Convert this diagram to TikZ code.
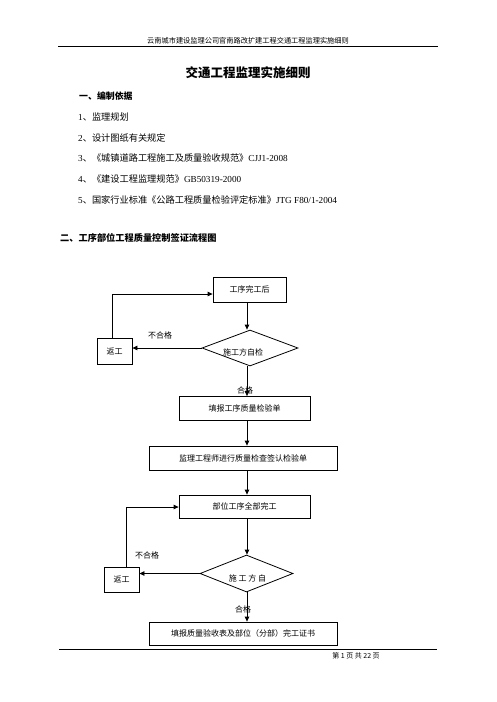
\documentclass[tikz,border=0pt]{standalone}
\usepackage{fontspec}
\setmainfont{Liberation Serif}
\newfontfamily\cjk{Noto Sans CJK SC}
\usetikzlibrary{arrows.meta,shapes.geometric}
\begin{document}
\begin{tikzpicture}[x=1pt,y=-1pt,
  box/.style={draw,line width=0.8pt,inner sep=0,font=\cjk\fontsize{8}{9}\selectfont},
  dia/.style={draw,line width=0.8pt,diamond,inner sep=0},
  lbl/.style={inner sep=0,font=\cjk\fontsize{8}{9}\selectfont},
  body/.style={inner sep=0,anchor=west,font=\fontsize{9.2}{11}\selectfont},
  arr/.style={line width=0.8pt,-{Triangle[length=5pt,width=4.5pt]}},
  rule/.style={line width=0.9pt}]
\useasboundingbox (0,0) rectangle (496,702);
% header
\node[inner sep=0,font=\cjk\fontsize{7.2}{8}\selectfont] (hdr) at (248,40.5) {云南城市建设监理公司官南路改扩建工程交通工程监理实施细则};
\draw[rule] (58,46) -- (438,46);
% title and text
\node[inner sep=0,font=\cjk\bfseries\fontsize{12.5}{14}\selectfont] (title) at (248,73) {交通工程监理实施细则};
\node[body,font=\cjk\bfseries\fontsize{8.9}{11}\selectfont] (s1) at (79,96) {一、编制依据};
\node[body] (i1) at (78,117) {1{\cjk 、监理规划}};
\node[body] (i2) at (78,137.5) {2{\cjk 、设计图纸有关规定}};
\node[body] (i3) at (78,158) {3{\cjk 、《城镇道路工程施工及质量验收规范》}CJJ1-2008};
\node[body] (i4) at (78,179) {4{\cjk 、《建设工程监理规范》}GB50319-2000};
\node[body] (i5) at (78,200) {5{\cjk 、国家行业标准《公路工程质量检验评定标准》}JTG F80/1-2004};
\node[body,font=\cjk\bfseries\fontsize{9.2}{11}\selectfont] (s2) at (60,238) {二、工序部位工程质量控制签证流程图};
% flowchart
\coordinate (vx) at (247,0);
\node[box,minimum width=73pt,minimum height=25pt] (b1) at (249.5,289.5) {工序完工后};
\node[dia,minimum width=96pt,minimum height=36pt] (d1) at (250,348) {};
\node[lbl] (d1t) at (243,352) {施工方自检};
\node[box,minimum width=35pt,minimum height=26pt] (r1) at (114.5,351) {返工};
\node[box,minimum width=131pt,minimum height=24pt] (b2) at (244.5,408.5) {填报工序质量检验单};
\node[box,minimum width=188pt,minimum height=24pt] (b3) at (243,458) {监理工程师进行质量检查签认检验单};
\node[box,minimum width=131pt,minimum height=23pt] (b4) at (244.5,506.5) {部位工序全部完工};
\node[dia,minimum width=93pt,minimum height=37pt] (d2) at (246.5,573.5) {};
\node[lbl] (d2t) at (247.5,578) {施\ 工\ 方\ 自};
\node[box,minimum width=35pt,minimum height=25pt] (r2) at (121.5,579.5) {返工};
\node[box,minimum width=188pt,minimum height=23pt] (b5) at (243,633.5) {填报质量验收表及部位（分部）完工证书};
% labels
\node[lbl] (ng1) at (160,335) {不合格};
\node[lbl] (ok1) at (245,390) {合格};
\node[lbl] (ng2) at (147,555) {不合格};
\node[lbl] (ok2) at (243,609) {合格};
% connectors
\draw[arr] (b1.south -| vx) -- (d1.north -| vx);
\draw[arr] (d1.south -| vx) -- (b2.north -| vx);
\draw[arr] (b2.south -| vx) -- (b3.north -| vx);
\draw[arr] (b3.south -| vx) -- (b4.north -| vx);
\draw[arr] (b4.south -| vx) -- (d2.north -| vx);
\draw[arr] (d2.south -| vx) -- (b5.north -| vx);
\draw[arr] (d1.west) -- (r1.east |- d1.west);
\draw[arr] (d2.west) -- (r2.east |- d2.west);
\coordinate (l1) at (112,294);
\coordinate (l2) at (126,507);
\draw[arr] (r1.north -| l1) |- (b1.west |- l1);
\draw[arr] (r2.north -| l2) |- (b4.west |- l2);
% footer
\draw[rule] (59,649) -- (437,649);
\node[inner sep=0,font=\cjk\fontsize{7}{8}\selectfont] (ftr) at (356,656) {第\ 1\ 页\ 共\ 22\ 页};
\end{tikzpicture}
\end{document}
